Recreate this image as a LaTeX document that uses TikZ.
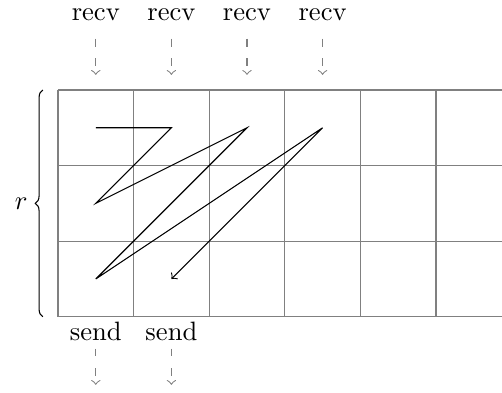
\documentclass[tikz,border=0pt]{standalone}
\usetikzlibrary{decorations.pathreplacing}
\begin{document}
\begin{tikzpicture}[
  gridline/.style={draw=gray, line width=0.4pt},
  flow/.style={dash pattern=on 3pt off 4.5pt, gray, ->},
  lbl/.style={inner sep=1pt}
]
\useasboundingbox (-0.767,1.19) rectangle (5.873,-4.008);
\begin{scope}
\clip (-0.767,1.19) rectangle (5.873,-4.008);
\draw[gridline] (0,0) grid (6,-3);
\end{scope}
% path
\coordinate (p0) at (0.5,-0.5);
\coordinate (p1) at (1.5,-0.5);
\coordinate (p2) at (0.5,-1.5);
\coordinate (p3) at (2.5,-0.5);
\coordinate (p4) at (0.5,-2.5);
\coordinate (p5) at (3.5,-0.5);
\coordinate (p6) at (1.5,-2.5);
\draw[->] (p0) -- (p1) -- (p2) -- (p3) -- (p4) -- (p5) -- (p6);
% recv
\foreach \i/\x in {1/0.5,2/1.5,3/2.5,4/3.5} {
  \node[lbl] (r\i) at (\x,1.0) {recv};
  \coordinate (rs\i) at (\x,0.68);
  \coordinate (re\i) at (\x,0.2);
  \draw[flow] (rs\i) -- (re\i);
}
% send
\foreach \i/\x in {1/0.5,2/1.5} {
  \node[lbl] (s\i) at (\x,-3.2) {send};
  \coordinate (ss\i) at (\x,-3.42);
  \coordinate (se\i) at (\x,-3.9);
  \draw[flow] (ss\i) -- (se\i);
}
% brace
\coordinate (bt) at (-0.2,0);
\coordinate (bb) at (-0.2,-3);
\draw[decorate, decoration={brace, amplitude=0.1cm}] (bb) -- (bt) node[midway, left=0.16cm, inner sep=1pt] (rl) {$r$};
\end{tikzpicture}
\end{document}
